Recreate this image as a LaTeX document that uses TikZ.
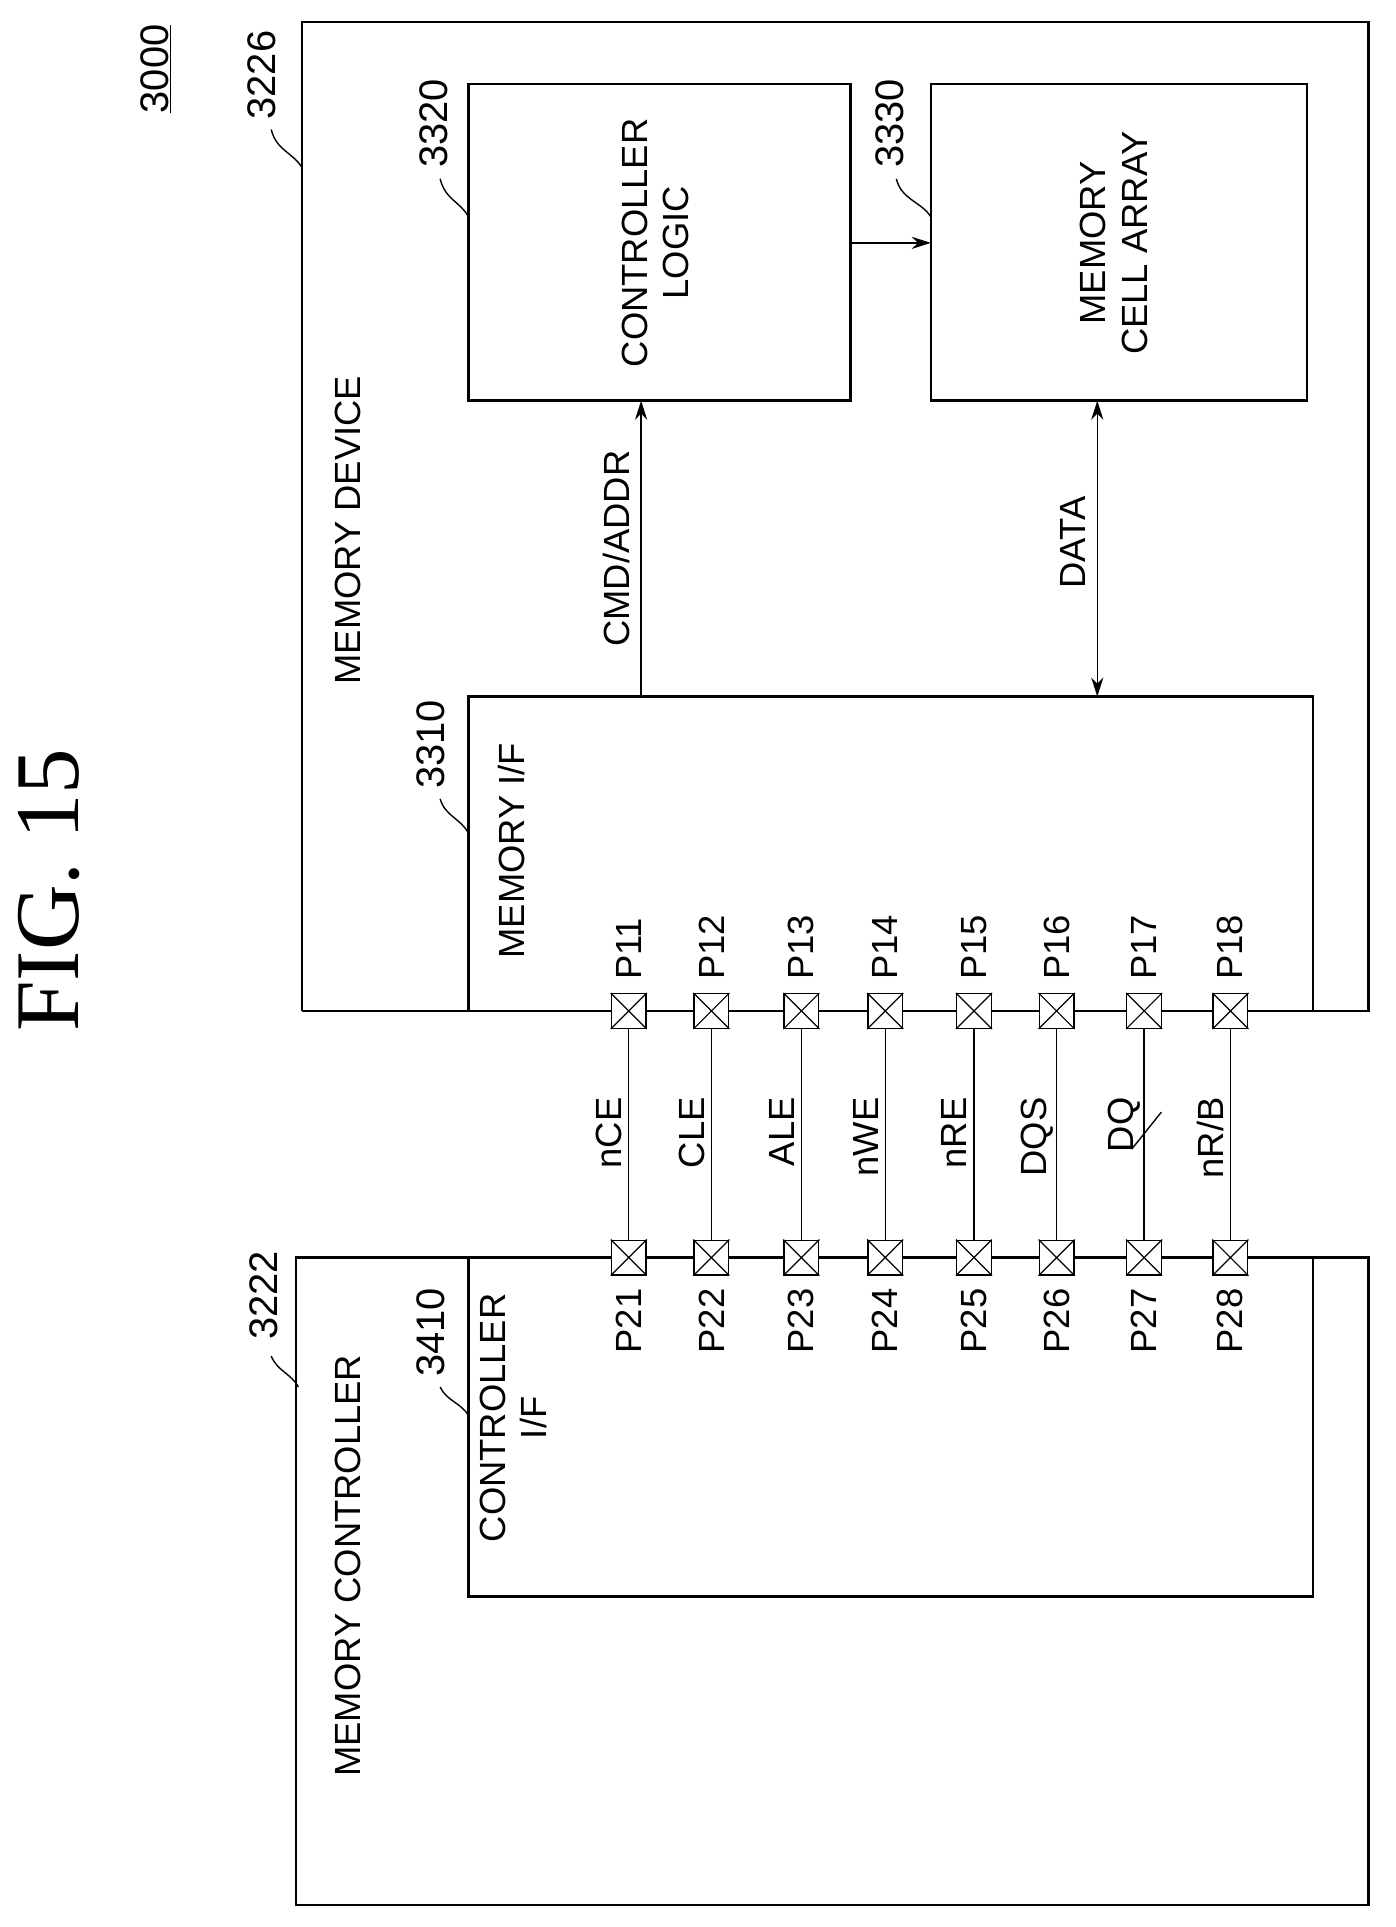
\documentclass[tikz,border=0pt]{standalone}
\usepackage{fontspec}
\setmainfont{Liberation Sans}
\newfontfamily\figfont{Liberation Serif}
\usetikzlibrary{arrows.meta}
\begin{document}
\begin{tikzpicture}[x=0.05cm,y=-0.05cm,
  box/.style={line width=3pt},
  wire/.style={line width=1.6pt},
  lab/.style={rotate=90,font=\fontsize{42}{48}\selectfont,inner sep=0pt},
  ref/.style={rotate=90,font=\fontsize{46}{52}\selectfont,inner sep=0pt},
  pad/.style={draw,line width=1.6pt,minimum size=40pt,fill=white,inner sep=0pt},
  arr/.style={line width=1.6pt,-{Stealth[length=22pt,width=14pt]}}]
\useasboundingbox (0,0) rectangle (1132,1563);
\node[rotate=90,font=\figfont\fontsize{105}{110}\selectfont] (fig) at (40,722) {FIG. 15};
\node[ref,anchor=west] (n3000) at (126,92) {\underline{3000}};
% memory device
\draw[box] (245,820) -- (245,18) -- (1110,18) -- (1110,820) -- (245,820);
\draw[box] (380,820) -- (380,565) -- (1065,565) -- (1065,820);
\draw[box] (380,68) rectangle (690,325);
\draw[box] (755,68) rectangle (1060,325);
\coordinate (cl) at (690,197); \coordinate (ma) at (755,197);
\draw[arr] (cl) -- (ma);
\coordinate (c1) at (520,565); \coordinate (c2) at (520,325);
\draw[arr] (c1) -- (c2);
\coordinate (d1) at (890,565); \coordinate (d2) at (890,325);
\draw[line width=1.6pt,{Stealth[length=22pt,width=14pt]}-{Stealth[length=22pt,width=14pt]}] (d1) -- (d2);
\node[lab] (tcl) at (535,197) {\begin{tabular}{c}CONTROLLER\\LOGIC\end{tabular}};
\node[lab] (tma) at (907,197) {\begin{tabular}{c}MEMORY\\CELL ARRAY\end{tabular}};
\node[lab] (tcmd) at (500,445) {CMD/ADDR};
\node[lab] (tdata) at (870,440) {DATA};
\node[lab] (tmd) at (282,430) {MEMORY DEVICE};
\node[lab] (tmif) at (415,690) {MEMORY I/F};
% memory controller
\draw[box] (240,1020) rectangle (1110,1545);
\draw[box] (380,1020) -- (380,1295) -- (1065,1295) -- (1065,1020);
\draw[box] (240,1020) -- (1110,1020);
\node[lab] (tcif) at (420,1150) {\begin{tabular}{c}CONTROLLER\\I/F\end{tabular}};
\node[lab] (tmc) at (282,1270) {MEMORY CONTROLLER};
% pads
\foreach \i/\x/\s in {1/510/{nCE},2/577/{CLE},3/650/{ALE},4/718/{nWE},5/790/{nRE},6/857/{DQS},7/928/{DQ},8/998/{nR/B}}{
  \node[pad] (a\i) at (\x,820) {};
  \draw[line width=1.4pt] (a\i.north west) -- (a\i.south east) (a\i.north east) -- (a\i.south west);
  \node[pad] (b\i) at (\x,1020) {};
  \draw[line width=1.4pt] (b\i.north west) -- (b\i.south east) (b\i.north east) -- (b\i.south west);
  \draw[wire] (a\i) -- (b\i);
  \node[lab,anchor=east] (s\i) at (\x-16,890) {\s};
  \node[lab,anchor=west] (pa\i) at (\x,795) {P1\i};
  \node[lab,anchor=east] (pb\i) at (\x,1045) {P2\i};
}
\draw[wire] (918,932) -- (942,902);
% reference numbers with leaders
\node[ref,anchor=west] (r3226) at (212,97) {3226};
\draw[wire] (220,105) .. controls (224,122) and (238,124) .. (245,136);
\node[ref,anchor=west] (r3320) at (352,136) {3320};
\draw[wire] (357,145) .. controls (361,162) and (374,164) .. (380,176);
\node[ref,anchor=west] (r3330) at (722,136) {3330};
\draw[wire] (727,145) .. controls (731,162) and (748,164) .. (755,176);
\node[ref,anchor=west] (r3310) at (349,640) {3310};
\draw[wire] (357,648) .. controls (361,662) and (374,664) .. (380,676);
\node[ref,anchor=west] (r3222) at (214,1087) {3222};
\draw[wire] (220,1100) .. controls (225,1112) and (236,1114) .. (242,1125);
\node[ref,anchor=west] (r3410) at (349,1117) {3410};
\draw[wire] (357,1125) .. controls (362,1136) and (374,1138) .. (380,1148);
\end{tikzpicture}
\end{document}
